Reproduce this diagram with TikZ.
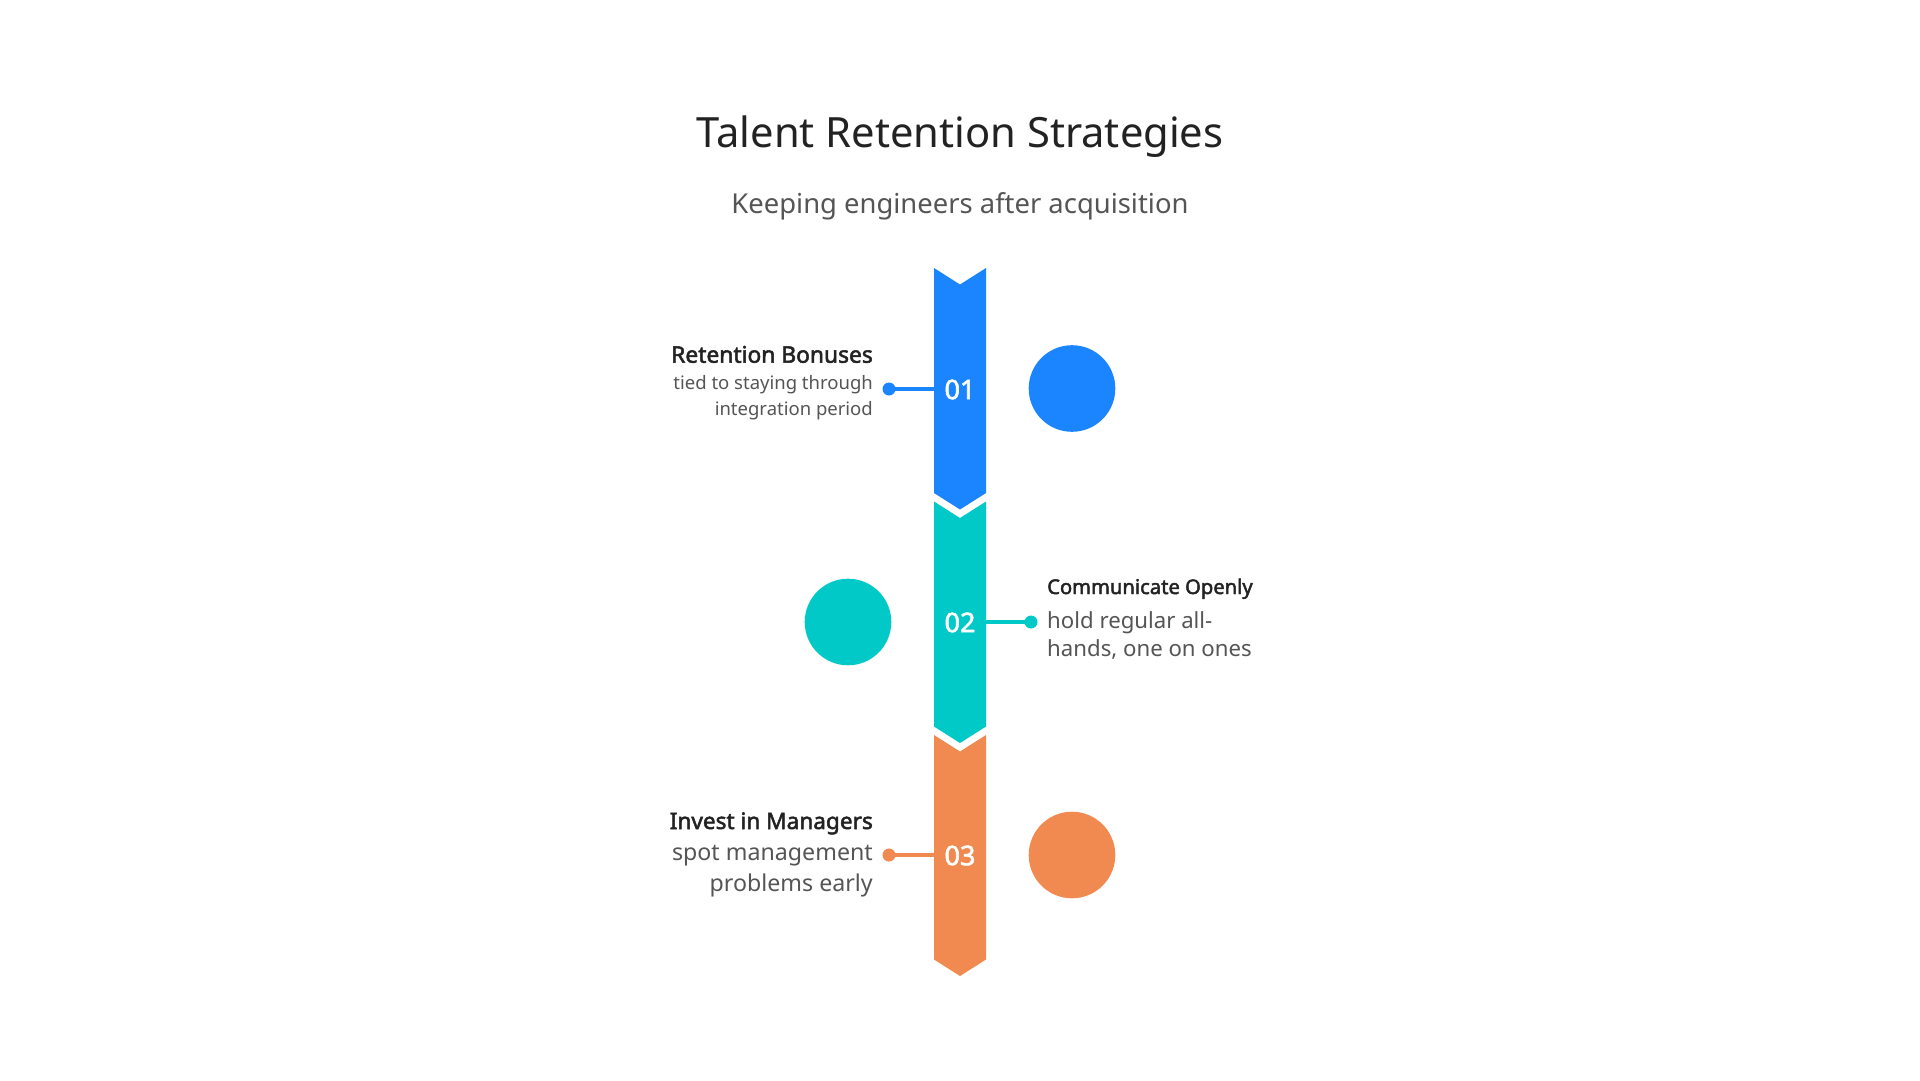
\documentclass[tikz,border=0pt]{standalone}
\usepackage{fontspec}
\setmainfont{Noto Sans}[BoldFont={Noto Sans}, BoldFeatures={FakeBold=2.2}]
\definecolor{cblue}{HTML}{1A85FF}
\definecolor{cteal}{HTML}{00C9C8}
\definecolor{corange}{HTML}{F08A50}
\definecolor{headc}{HTML}{222222}
\definecolor{bodyc}{HTML}{555555}
\begin{document}
\begin{tikzpicture}[x=1pt,y=-1pt,
  maintitle/.style={font=\fontsize{41.7}{49}\selectfont, text=headc, inner sep=0pt, anchor=base},
  subtitle/.style={font=\fontsize{27.4}{32}\selectfont, text=bodyc, inner sep=0pt, anchor=base},
  itemhead/.style={font=\bfseries\fontsize{#1}{#1}\selectfont, text=headc, inner sep=0pt},
  itemtext/.style={font=\fontsize{#1}{#1}\selectfont, text=bodyc, inner sep=0pt},
  numlabel/.style={font=\bfseries\fontsize{27}{27}\selectfont, text=white, inner sep=0pt, anchor=center},
  bubble/.style={circle, fill=#1, minimum size=86.6pt, inner sep=0pt},
  dotc/.style={circle, fill=#1, minimum size=13pt, inner sep=0pt},
  link/.style={draw=#1, line width=3.5pt},
]
\useasboundingbox[fill=white] (0,0) rectangle (1920,1080);

% titles
\node[maintitle] (ttl) at (960,147) {Talent Retention Strategies};
\node[subtitle] (sub) at (960,213) {Keeping engineers after acquisition};

% chevron bar segments
\fill[cblue]   (934,268)   -- (960,284.5) -- (986,268)   -- (986,493)   -- (960,509.5) -- (934,493)   -- cycle;
\fill[cteal]   (934,501.5) -- (960,518)   -- (986,501.5) -- (986,726.5) -- (960,743)   -- (934,726.5) -- cycle;
\fill[corange] (934,735)   -- (960,751.5) -- (986,735)   -- (986,959.5) -- (960,976)   -- (934,959.5) -- cycle;

% numbers
\node[numlabel] (n1) at (960,389.5) {01};
\node[numlabel] (n2) at (960,622.5) {02};
\node[numlabel] (n3) at (960,855.5) {03};

% bubbles
\node[bubble=cblue]   (c1) at (1072,388.5) {};
\node[bubble=cteal]   (c2) at (848,622)    {};
\node[bubble=corange] (c3) at (1072,855)   {};

% connectors
\coordinate (b1) at (934,389);
\coordinate (b2) at (986,622);
\coordinate (b3) at (934,855);
\node[dotc=cblue]   (d1) at (889,389)  {};
\node[dotc=cteal]   (d2) at (1031,622) {};
\node[dotc=corange] (d3) at (889,855)  {};
\draw[link=cblue]   (d1.center) -- (b1);
\draw[link=cteal]   (b2) -- (d2.center);
\draw[link=corange] (d3.center) -- (b3);

% item 1
\node[itemhead=22.8, anchor=base east] (h1) at (873,362.7) {Retention Bonuses};
\node[itemtext=18.5, anchor=base east] (t1a) at (873,389) {tied to staying through};
\node[itemtext=18.5, anchor=base east] (t1b) at (873,415) {integration period};

% item 2
\node[itemhead=20.2, anchor=base west] (h2) at (1047,594) {Communicate Openly};
\node[itemtext=22.2, anchor=base west] (t2a) at (1047,628) {hold regular all-};
\node[itemtext=22.2, anchor=base west] (t2b) at (1047,656.5) {hands, one on ones};

% item 3
\node[itemhead=22.6, anchor=base east] (h3) at (873,829) {Invest in Managers};
\node[itemtext=23.2, anchor=base east] (t3a) at (873,860) {spot management};
\node[itemtext=23.2, anchor=base east] (t3b) at (873,891) {problems early};
\end{tikzpicture}
\end{document}
